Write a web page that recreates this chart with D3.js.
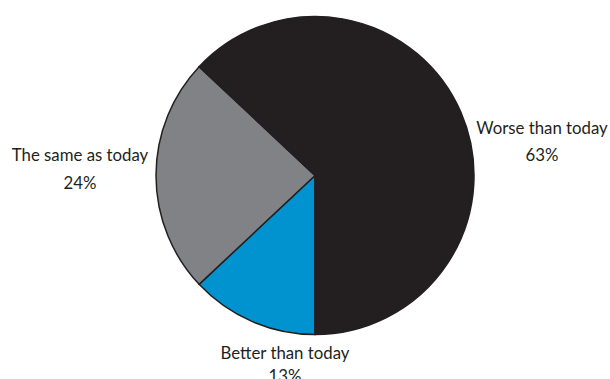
<!DOCTYPE html>
<html><head><meta charset="utf-8">
<script src="https://cdn.jsdelivr.net/npm/d3@7/dist/d3.min.js"></script>
<style>body{margin:0;background:#fff}svg{display:block}</style>
</head><body>
<script>
const categories = ["Better than today", "The same as today", "Worse than today"];
const values = [13, 24, 63];
const valueLabels = ["13%", "24%", "63%"];
const colors = ["#0093d0", "#808285", "#231f20"];

const W = 610, H = 379, cx = 315, cy = 175.5, r = 159;
const svg = d3.select("body").append("svg").attr("width", W).attr("height", H);
const g = svg.append("g").attr("transform", `translate(${cx},${cy})`);

const pie = d3.pie().sort(null).value(d => d.v)
  .startAngle(Math.PI).endAngle(3 * Math.PI);
const data = categories.map((c, i) => ({ c, v: values[i], lab: valueLabels[i], col: colors[i] }));
const arcs = pie(data);
const arc = d3.arc().innerRadius(0).outerRadius(r);

g.selectAll("path").data(arcs).join("path")
  .attr("d", arc)
  .attr("fill", d => d.data.col)
  .attr("stroke", "#231f20")
  .attr("stroke-width", 1.5)
  .attr("stroke-linejoin", "miter");

// label positions (absolute)
const labelPos = [[285, 359, 382], [80, 161, 189], [542, 134, 161]];
const lg = svg.append("g").attr("font-family", "Lato, 'Open Sans', sans-serif")
  .attr("font-size", 16.8).attr("fill", "#231f20").attr("text-anchor", "middle");
data.forEach((d, i) => {
  const [x, y1, y2] = labelPos[i];
  lg.append("text").attr("x", x).attr("y", y1).text(d.c);
  lg.append("text").attr("x", x).attr("y", y2).text(d.lab);
});
</script>
</body></html>
